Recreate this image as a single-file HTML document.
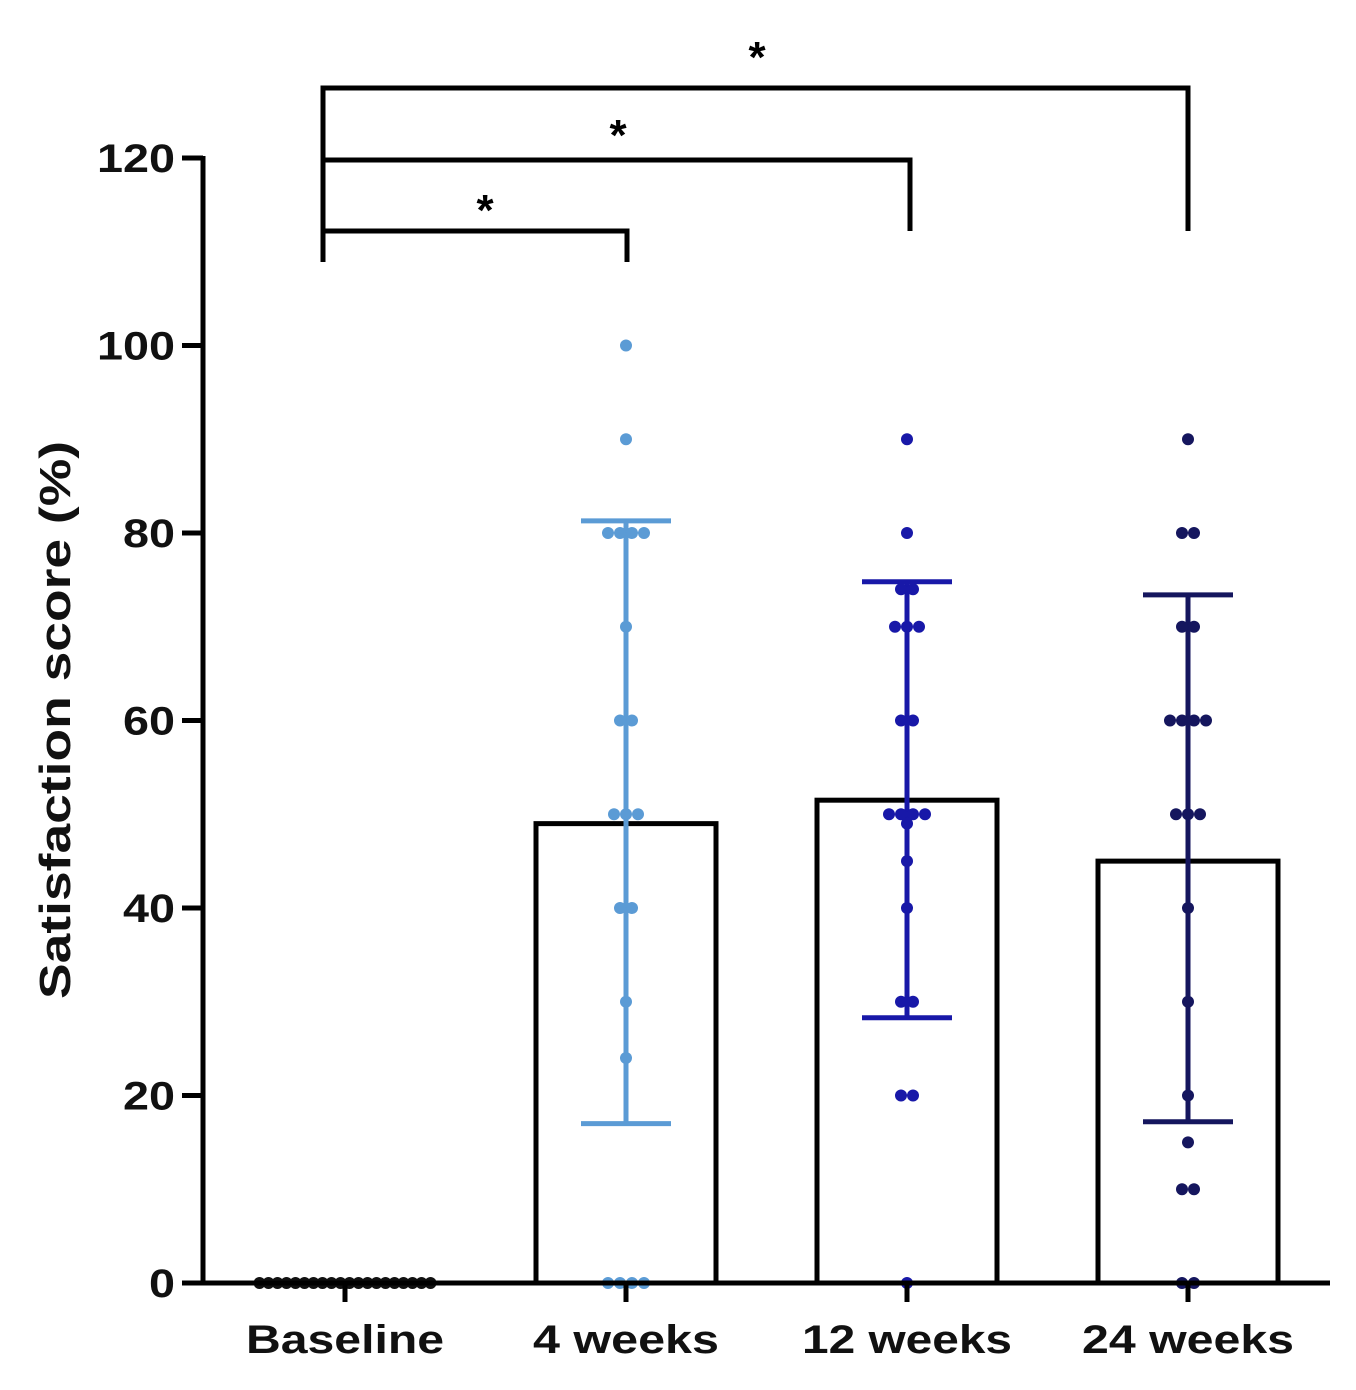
<!DOCTYPE html>
<html><head><meta charset="utf-8"><style>
html,body{margin:0;padding:0;background:#fff;}
svg{display:block;font-family:"Liberation Sans",sans-serif;font-weight:bold;}
</style></head><body>
<svg id="chart" width="1356" height="1390"></svg>
<script>
const categories=["Baseline","4 weeks","12 weeks","24 weeks"];
const means=[0,49,51.5,45];
const errLow=[0,17,28.3,17.2];
const errHigh=[0,81.3,74.8,73.4];
const colors=["#111","#5b9bd5","#1818a8","#15165e"];
const pointsBaseline=[0,0,0,0,0,0,0,0,0,0,0,0,0,0,0,0,0,0,0,0];
const points4=[100,90,80,80,80,80,70,60,60,50,50,50,40,40,30,24,0,0,0,0];
const points12=[90,80,74,74,70,70,70,60,60,50,50,50,50,49,45,40,30,30,20,20,0];
const points24=[90,80,80,70,70,60,60,60,60,50,50,50,40,30,20,15,10,10,0,0];
const yTicks=[0,20,40,60,80,100,120];
const NS="http://www.w3.org/2000/svg";
const svg=document.getElementById('chart');
const y=v=>1283-v*9.375;
const xc=i=>345+i*281;
function mk(t,a,p){const e=document.createElementNS(NS,t);for(const k in a)e.setAttribute(k,a[k]);(p||svg).appendChild(e);return e;}
for(let i=1;i<4;i++){
 const b=mk('rect',{x:xc(i)-90,y:y(means[i]),width:180,height:y(0)-y(means[i]),fill:'none',stroke:'#000','stroke-width':5});
 
 
}
for(let i=1;i<4;i++){
 const g=mk('g',{stroke:colors[i],'stroke-width':5});
 
 
 mk('line',{x1:xc(i),x2:xc(i),y1:y(errLow[i]),y2:y(errHigh[i])},g);
 mk('line',{x1:xc(i)-45,x2:xc(i)+45,y1:y(errLow[i]),y2:y(errLow[i])},g);
 mk('line',{x1:xc(i)-45,x2:xc(i)+45,y1:y(errHigh[i]),y2:y(errHigh[i])},g);
}
const allPts=[pointsBaseline,points4,points12,points24];
allPts.forEach((pts,i)=>{
 const counts={};pts.forEach(v=>counts[v]=(counts[v]||0)+1);
 const seen={};
 const sp=i===0?9:12;
 pts.forEach(v=>{
  const n=counts[v];const k=seen[v]||0;seen[v]=k+1;
  const off=(k-(n-1)/2)*sp;
  const c=mk('circle',{cx:xc(i)+off,cy:y(v),r:6,fill:colors[i]});
  
  
 });
});
const ax=mk('g',{stroke:'#000','stroke-width':5,fill:'none'});


mk('line',{x1:203,x2:203,y1:156,y2:1285},ax);
mk('line',{x1:201,x2:1330,y1:1283,y2:1283},ax);
yTicks.forEach(t=>{
 mk('line',{x1:182,x2:203,y1:y(t),y2:y(t)},ax);
 const s=String(t);
 const tx=mk('text',{x:175,y:y(t)+14,'text-anchor':'end','font-size':40,fill:'#111',textLength:26*s.length,lengthAdjust:'spacingAndGlyphs'});
 tx.textContent=s;
 
 
});
const xLens=[198,186,210,212];
categories.forEach((c,i)=>{
 mk('line',{x1:xc(i),x2:xc(i),y1:1283,y2:1302},ax);
 const tx=mk('text',{x:xc(i),y:1353,'text-anchor':'middle','font-size':40,fill:'#111',textLength:xLens[i],lengthAdjust:'spacingAndGlyphs'});
 tx.textContent=c;
 
 
});
const yt=mk('text',{x:0,y:0,transform:'translate(70,720) rotate(-90)','text-anchor':'middle','font-size':44,fill:'#111',textLength:558,lengthAdjust:'spacingAndGlyphs'});
yt.textContent='Satisfaction score (%)';


const br=mk('g',{stroke:'#000','stroke-width':5,fill:'none'});


mk('polyline',{points:'323,262 323,88 1188,88 1188,231'},br);
mk('polyline',{points:'323,160 910,160 910,231'},br);
mk('polyline',{points:'323,231 627,231 627,262'},br);
[[757,72],[618,150],[485,225]].forEach(p=>{
 const s=mk('text',{x:p[0],y:p[1],'text-anchor':'middle','font-size':44,fill:'#000'});
 s.textContent='*';
 
 
});
</script>
</body></html>
